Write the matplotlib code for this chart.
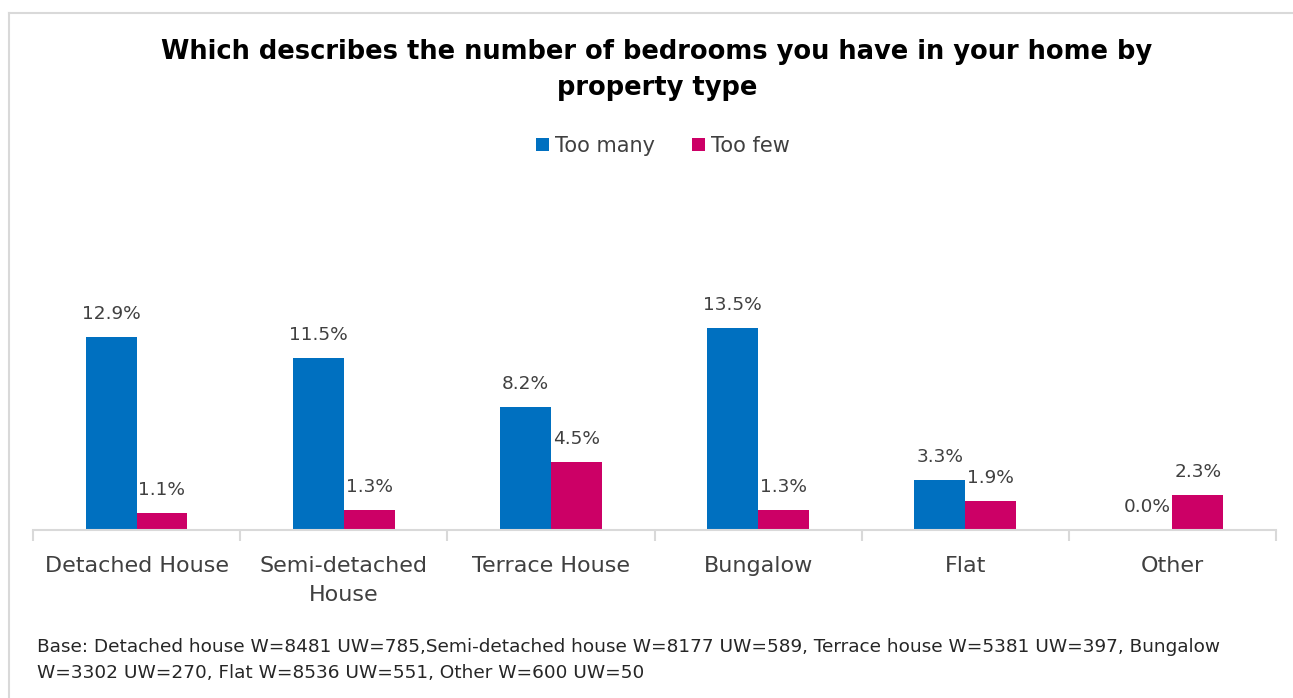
import matplotlib
matplotlib.use("Agg")
import matplotlib.pyplot as plt
from matplotlib.lines import Line2D
import numpy as np

categories = ["Detached House", "Semi-detached\nHouse", "Terrace House", "Bungalow", "Flat", "Other"]
too_many = [12.9, 11.5, 8.2, 13.5, 3.3, 0.0]
too_few = [1.1, 1.3, 4.5, 1.3, 1.9, 2.3]
series_names = ["Too many", "Too few"]
title = "Which describes the number of bedrooms you have in your home by\nproperty type"
footnote = ("Base: Detached house W=8481 UW=785,Semi-detached house W=8177 UW=589, Terrace house W=5381 UW=397, Bungalow\n"
            "W=3302 UW=270, Flat W=8536 UW=551, Other W=600 UW=50")

BLUE = "#0070C0"
PINK = "#CC0066"
TXT = "#404040"

W, H = 1293, 698
fig = plt.figure(figsize=(W / 100, H / 100), dpi=100)
plt.rcParams['font.family'] = ['DejaVu Sans']

# border (left and top edges only visible)
fig.lines.append(Line2D([8.5 / W, 8.5 / W], [0, 1 - 12.5 / H], transform=fig.transFigure,
                        color="#D9D9D9", linewidth=1.5))
fig.lines.append(Line2D([8.5 / W, 1], [1 - 12.5 / H, 1 - 12.5 / H], transform=fig.transFigure,
                        color="#D9D9D9", linewidth=1.5))

ymax = 16
bottom_px, top_px = 529.5, 529.5 - ymax * 14.93
ax = fig.add_axes([33 / W, (H - bottom_px) / H, (1276 - 33) / W, (bottom_px - top_px) / H])

x = np.arange(len(categories))
bw = 0.245
b1 = ax.bar(x - bw / 2, too_many, bw, color=BLUE, label=series_names[0])
b2 = ax.bar(x + bw / 2, too_few, bw, color=PINK, label=series_names[1])

for bars, vals in ((b1, too_many), (b2, too_few)):
    for r, v in zip(bars, vals):
        ax.annotate(f"{v:.1f}%", (r.get_x() + r.get_width() / 2, v), xytext=(0, 10),
                    textcoords="offset points", ha="center", va="bottom",
                    fontsize=13.3, color=TXT)

ax.set_xlim(-0.5, len(categories) - 0.5)
ax.set_ylim(0, ymax)
for s in ("top", "right", "left"):
    ax.spines[s].set_visible(False)
ax.spines["bottom"].set_color("#D9D9D9")
ax.spines["bottom"].set_linewidth(1.5)
ax.set_yticks([])
ax.set_xticks(np.arange(-0.5, len(categories), 1.0))
ax.set_xticklabels([])
ax.tick_params(axis="x", which="major", length=8, width=1.5, color="#D9D9D9", direction="out")
ax.set_xticks(x, minor=True)
ax.set_xticklabels(categories, minor=True, fontsize=16, color=TXT, linespacing=1.55)
ax.tick_params(axis="x", which="minor", length=0, pad=19)

fig.text(657 / W, 1 - 70 / H, title, ha="center", va="center", fontsize=18.5,
         fontweight="bold", color="black", linespacing=1.5)

leg = fig.legend(handles=[b1, b2], loc="center", bbox_to_anchor=(663 / W, 1 - 146 / H),
                 ncol=2, frameon=False, fontsize=15, handlelength=0.6, handleheight=0.6,
                 handletextpad=0.3, columnspacing=1.8, labelcolor=TXT)

fig.text(37 / W, 1 - 660 / H, footnote, ha="left", va="center", fontsize=13.3,
         color="#262626", linespacing=1.55)

fig.savefig("out.png", dpi=100)
